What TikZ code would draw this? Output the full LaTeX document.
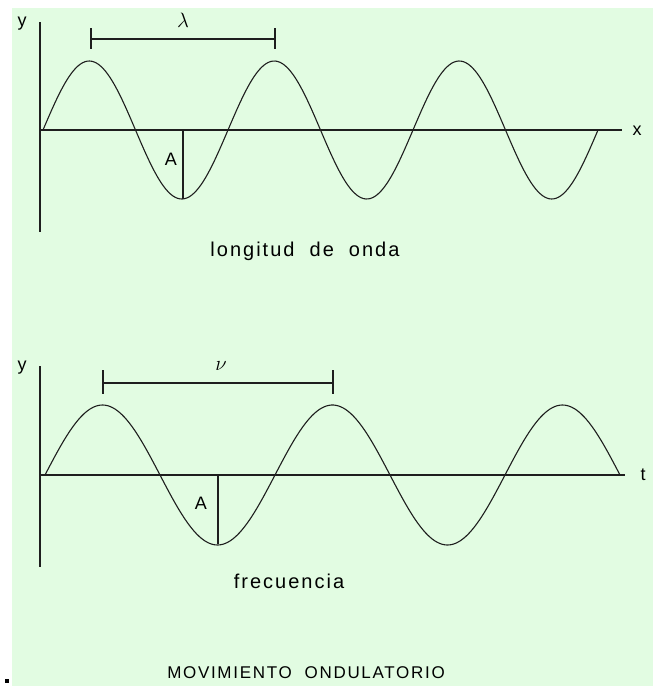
\documentclass[tikz,border=0pt]{standalone}
\usepackage{fontspec}
\setmainfont{Liberation Sans}
\newfontfamily\labfont[LetterSpace=10]{Liberation Sans}
\definecolor{bggreen}{RGB}{226,252,226}
\definecolor{ink}{RGB}{30,30,30}
\tikzset{
  axisline/.style={draw=ink, line width=1.4pt},
  waveline/.style={draw=ink, line width=1.1pt},
  barline/.style={draw=ink, line width=1.3pt},
  lab/.style={inner sep=0pt, font=\labfont\fontsize{18}{20}\selectfont},
  greek/.style={inner sep=0pt, font=\fontsize{22}{24}\selectfont},
  caption/.style={inner sep=0pt, font=\labfont\fontsize{20}{22}\selectfont},
  title/.style={inner sep=0pt, font=\labfont\fontsize{17}{20}\selectfont}
}
\begin{document}
\begin{tikzpicture}[x=1pt,y=-1pt]
\useasboundingbox (0,0) rectangle (653,686);
\fill[bggreen] (12,8) rectangle (653,686);
\fill[black] (5,679) rectangle (9,683);

% ---------- top graph ----------
\coordinate (ya1) at (40,22);
\coordinate (yb1) at (40,232);
\coordinate (o1) at (40,130);
\coordinate (xe1) at (622,130);
\draw[axisline] (ya1) -- (yb1);
\draw[axisline] (o1) -- (xe1);
\node[lab] (ylab1) at (22,24) {y};
\node[lab] (xlab1) at (637,131) {x};
\draw[waveline] plot[domain=0:555, samples=240] ({43+\x},{130-69*sin(\x/185*360)});
% lambda bar
\coordinate (l1) at (91,39);
\coordinate (l2) at (275,39);
\coordinate (l1a) at (91,28);
\coordinate (l1b) at (91,49);
\coordinate (l2a) at (275,28);
\coordinate (l2b) at (275,49);
\draw[barline] (l1) -- (l2);
\draw[barline] (l1a) -- (l1b);
\draw[barline] (l2a) -- (l2b);
\node[greek] (lam) at (183,20) {$\lambda$};
% amplitude
\coordinate (a1t) at (183,130);
\coordinate (a1b) at (183,199);
\draw[barline] (a1t) -- (a1b);
\node[lab] (alab1) at (171,159) {A};
\node[caption] (cap1) at (305,251) {longitud\ \ de\ \ onda};

% ---------- bottom graph ----------
\coordinate (ya2) at (40,366);
\coordinate (yb2) at (40,567);
\coordinate (o2) at (40,475);
\coordinate (te2) at (625,475);
\draw[axisline] (ya2) -- (yb2);
\draw[axisline] (o2) -- (te2);
\node[lab] (ylab2) at (22,368) {y};
\node[lab] (tlab2) at (643,475) {t};
\draw[waveline] plot[domain=0:575, samples=240] ({45+\x},{475-70*sin(\x/230*360)});
% nu bar
\coordinate (n1) at (103,383);
\coordinate (n2) at (333,383);
\coordinate (n1a) at (103,370);
\coordinate (n1b) at (103,394);
\coordinate (n2a) at (333,370);
\coordinate (n2b) at (333,394);
\draw[barline] (n1) -- (n2);
\draw[barline] (n1a) -- (n1b);
\draw[barline] (n2a) -- (n2b);
\node[greek] (nu) at (221,366) {$\nu$};
% amplitude
\coordinate (a2t) at (218,475);
\coordinate (a2b) at (218,544);
\draw[barline] (a2t) -- (a2b);
\node[lab] (alab2) at (201,503) {A};
\node[caption] (cap2) at (289,581) {frecuencia};

\node[title] (ttl) at (306,673) {MOVIMIENTO\ \ ONDULATORIO};
\end{tikzpicture}
\end{document}
